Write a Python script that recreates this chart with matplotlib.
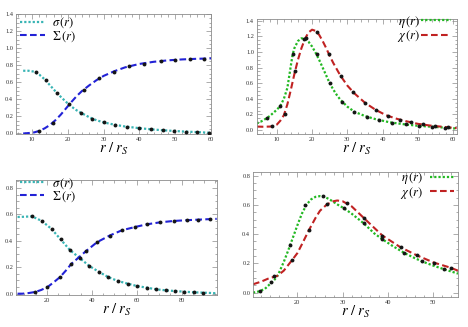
import numpy as np
import matplotlib
matplotlib.use('Agg')
import matplotlib.pyplot as plt
from matplotlib.ticker import MultipleLocator

# ---- data ----
# top left: sigma(r), Sigma(r)
r_tl = [7.5, 9, 10.5, 12, 13.5, 15, 16.5, 18, 19.5, 21, 22.5, 24, 26, 28, 30,
        33, 36, 40, 44, 48, 52, 56, 60]
sig_tl = [0.735, 0.735, 0.725, 0.69, 0.635, 0.565, 0.495, 0.43, 0.37, 0.315,
          0.27, 0.235, 0.19, 0.155, 0.13, 0.103, 0.082, 0.062, 0.046, 0.034,
          0.024, 0.016, 0.008]
Sig_tl = [0.0, 0.005, 0.012, 0.03, 0.06, 0.10, 0.155, 0.22, 0.295, 0.37, 0.44,
          0.50, 0.565, 0.625, 0.675, 0.73, 0.775, 0.815, 0.84, 0.857, 0.868,
          0.875, 0.88]
dot_r_sig_tl = [11, 14, 17, 23.7, 26.8, 30.2, 33.3, 36.5, 39.8, 43.3, 46.5,
                49.7, 53, 56.2, 59.5]
dot_v_sig_tl = [0.72, 0.625, 0.475, 0.24, 0.175, 0.13, 0.1, 0.078, 0.062,
                0.047, 0.037, 0.029, 0.022, 0.015, 0.009]
dot_r_Sig_tl = [12, 15.9, 20.3, 24.4, 28.7, 32.8, 37.2, 41.4, 46, 50, 54, 58]
dot_v_Sig_tl = [0.03, 0.125, 0.34, 0.51, 0.645, 0.725, 0.785, 0.82, 0.848,
                0.862, 0.871, 0.877]

# top right: eta(r), chi(r)
r_eta_tr = [4.3, 6, 8, 10, 11, 12, 13, 14, 14.5, 15, 16, 17, 18, 19, 20, 21,
            22, 23, 24, 25, 26, 27, 28, 30, 32, 35, 38, 42, 46, 50, 55, 61]
eta_tr = [0.085, 0.12, 0.18, 0.26, 0.31, 0.40, 0.54, 0.83, 0.97, 1.05, 1.14,
          1.175, 1.165, 1.13, 1.07, 0.99, 0.90, 0.80, 0.70, 0.60, 0.52, 0.45,
          0.39, 0.30, 0.235, 0.18, 0.14, 0.10, 0.075, 0.055, 0.04, 0.02]
r_chi_tr = [4.3, 6, 8, 9, 10, 11, 12, 13, 14, 15, 16, 17, 18, 19, 20, 21, 22,
            23, 24, 25, 26, 28, 30, 32, 35, 38, 41, 44, 47, 50, 54, 57.6, 61]
chi_tr = [0.045, 0.043, 0.045, 0.05, 0.07, 0.12, 0.19, 0.33, 0.52, 0.72, 0.90,
          1.05, 1.17, 1.25, 1.285, 1.27, 1.22, 1.14, 1.05, 0.95, 0.86, 0.70,
          0.57, 0.47, 0.35, 0.26, 0.19, 0.145, 0.11, 0.08, 0.055, 0.04, 0.025]
dot_r_eta_tr = [7.1, 11, 14.5, 17.8, 21.4, 25, 28.4, 32, 35.6, 39, 42.8, 46.5,
                50.2, 53.9, 57.6]
dot_v_eta_tr = [0.15, 0.31, 0.97, 1.17, 0.97, 0.60, 0.36, 0.235, 0.17, 0.13,
                0.094, 0.073, 0.055, 0.042, 0.032]
dot_r_chi_tr = [8.7, 12.2, 15.3, 18.3, 21.3, 24.8, 28.2, 31.7, 35, 38.2, 41.5,
                44.8, 48, 51.6, 55, 58.6]
dot_v_chi_tr = [0.048, 0.2, 0.76, 1.18, 1.26, 0.97, 0.69, 0.49, 0.35, 0.255,
                0.18, 0.135, 0.1, 0.072, 0.05, 0.035]

# bottom left: sigma(r), Sigma(r)
r_sig_bl = [7, 10, 13.4, 17.8, 22.1, 26.2, 30.3, 34.6, 38.9, 43.2, 47.3, 51.6,
            56, 60.1, 64.6, 68.7, 73, 77.1, 81.2, 85.5, 89.6, 95.6]
sig_bl = [0.58, 0.582, 0.585, 0.55, 0.49, 0.41, 0.33, 0.27, 0.21, 0.165,
          0.126, 0.096, 0.076, 0.058, 0.045, 0.033, 0.025, 0.02, 0.015, 0.01,
          0.008, 0.003]
r_Sig_bl = [7, 9.2, 12, 14.9, 17.5, 20.3, 23, 25.9, 28.5, 30.9, 34.6, 37.3,
            42.4, 48, 53.5, 59.4, 64.6, 70.5, 76.4, 82.3, 87.4, 92.6, 95.6]
Sig_bl = [0.0, 0.0, 0.005, 0.013, 0.028, 0.05, 0.085, 0.126, 0.175, 0.225,
          0.28, 0.32, 0.39, 0.44, 0.48, 0.505, 0.525, 0.54, 0.55, 0.556,
          0.56, 0.564, 0.566]
dot_r_sig_bl = [13.4, 17.8, 22.1, 26.2, 30.3, 34.6, 38.9, 43.2, 47.3, 51.6,
                56, 60.1, 64.6, 68.7, 73, 77.1, 81.2, 85.5, 89.6]
dot_v_sig_bl = [0.585, 0.55, 0.49, 0.41, 0.33, 0.27, 0.21, 0.165, 0.126,
                0.096, 0.076, 0.058, 0.045, 0.033, 0.025, 0.02, 0.015, 0.01,
                0.008]
dot_r_Sig_bl = [14.9, 20.3, 25.9, 30.9, 37.3, 42.4, 48, 53.5, 59.4, 64.6,
                70.5, 76.4, 82.3, 87.4, 92.6]
dot_v_Sig_bl = [0.013, 0.05, 0.126, 0.225, 0.32, 0.39, 0.44, 0.48, 0.505,
                0.525, 0.54, 0.55, 0.556, 0.56, 0.564]

# bottom right: eta(r), chi(r)
r_eta_br = [10.2, 11.5, 12.8, 14, 15, 15.6, 16, 17, 18, 19, 20, 21, 22, 23,
            24, 25, 26, 27, 28, 29, 30.3, 32, 34.7, 37, 38.8, 41, 43.6, 46,
            47.6, 50, 52.4, 55.5]
eta_br = [0.0, 0.008, 0.025, 0.06, 0.09, 0.115, 0.14, 0.21, 0.29, 0.375,
          0.46, 0.54, 0.6, 0.637, 0.655, 0.66, 0.655, 0.64, 0.62, 0.6, 0.577,
          0.54, 0.473, 0.405, 0.365, 0.32, 0.272, 0.235, 0.213, 0.185, 0.16,
          0.13]
r_chi_br = [10.2, 12, 13.5, 15.6, 17, 18.9, 20, 21, 22.6, 24, 25, 26.6, 28,
            28.8, 30, 32, 34.7, 38.8, 42.8, 46.4, 50.2, 53.9, 55.5]
chi_br = [0.057, 0.075, 0.095, 0.115, 0.15, 0.225, 0.27, 0.33, 0.43, 0.51,
          0.56, 0.605, 0.625, 0.63, 0.625, 0.59, 0.51, 0.39, 0.31, 0.255,
          0.205, 0.17, 0.15]
dot_r_eta_br = [11.8, 14.2, 18.4, 21.6, 25.7, 30.3, 34.7, 38.8, 43.6, 47.6,
                52.4]
dot_v_eta_br = [0.012, 0.07, 0.327, 0.6, 0.658, 0.577, 0.473, 0.365, 0.272,
                0.213, 0.16]
dot_r_chi_br = [14.9, 18.9, 22.6, 26.6, 31, 34.7, 38.8, 42.8, 46.4, 50.2,
                53.9]
dot_v_chi_br = [0.113, 0.225, 0.43, 0.605, 0.61, 0.51, 0.39, 0.31, 0.255,
                0.205, 0.17]

# ---- style ----
plt.rcParams['mathtext.fontset'] = 'stix'
plt.rcParams['font.family'] = ['Liberation Serif', 'DejaVu Serif']

W, H = 468, 327
c_sig = '#38b4b4'
c_Sig = '#2222d6'
c_eta = '#22b822'
c_chi = '#c02222'
frame = '#8c8c8c'
dotted = (0, (1.0, 0.9))
dashed = (0, (3.2, 1.6))

fig = plt.figure(figsize=(W / 100, H / 100), dpi=100)


def make_ax(l, r, t, b):
    ax = fig.add_axes([l / W, 1 - b / H, (r - l) / W, (b - t) / H])
    for s in ax.spines.values():
        s.set_color(frame)
        s.set_linewidth(0.6)
    ax.tick_params(which='both', direction='in', top=True, right=True,
                   colors=frame, labelcolor='#333333', labelsize=4.6,
                   width=0.5, pad=2)
    ax.tick_params(which='major', length=3.5)
    ax.tick_params(which='minor', length=1.8)
    ax.set_xlabel(r'$r\ /\ r_{S}$', fontsize=10.5, labelpad=-0.5)
    return ax


def dots(ax, r, v):
    ax.plot(r, v, 'o', color='#151515', ms=2.8, mew=0, zorder=5)


def legend(ax, handles, labels, anchor, right, hl, pad):
    ax.legend(handles, labels, loc='upper right' if right else 'upper left',
              bbox_to_anchor=anchor, frameon=False, fontsize=9,
              handlelength=hl, handletextpad=pad, labelspacing=-0.12,
              borderaxespad=0, borderpad=0, markerfirst=not right)


# top left
ax = make_ax(16, 211, 14, 134)
l1, = ax.plot(r_tl, sig_tl, color=c_sig, lw=1.6, ls=dotted)
l2, = ax.plot(r_tl, Sig_tl, color=c_Sig, lw=1.5, ls=dashed)
dots(ax, dot_r_sig_tl, dot_v_sig_tl)
dots(ax, dot_r_Sig_tl, dot_v_Sig_tl)
ax.set_xlim(5.5, 60)
ax.set_ylim(-0.006, 1.4)
ax.xaxis.set_major_locator(MultipleLocator(10))
ax.xaxis.set_minor_locator(MultipleLocator(2))
ax.yaxis.set_minor_locator(MultipleLocator(0.05))
ax.set_yticks(np.arange(0, 1.41, 0.2))
ax.set_yticklabels([f'{v:.1f}' for v in np.arange(0, 1.41, 0.2)])
legend(ax, [l1, l2], [r'$\sigma\,(r)$', r'$\Sigma\,(r)$'], (0.02, 0.985),
       False, 2.0, 0.55)

# top right
ax = make_ax(256.7, 457, 19.3, 134)
l1, = ax.plot(r_eta_tr, eta_tr, color=c_eta, lw=1.6, ls=dotted)
l2, = ax.plot(r_chi_tr, chi_tr, color=c_chi, lw=1.5, ls=dashed)
dots(ax, dot_r_eta_tr, dot_v_eta_tr)
dots(ax, dot_r_chi_tr, dot_v_chi_tr)
ax.set_xlim(4.3, 61.1)
ax.set_ylim(-0.05, 1.418)
ax.xaxis.set_major_locator(MultipleLocator(10))
ax.xaxis.set_minor_locator(MultipleLocator(2))
ax.yaxis.set_minor_locator(MultipleLocator(0.05))
ax.set_yticks(np.arange(0, 1.41, 0.2))
ax.set_yticklabels([f'{v:.1f}' for v in np.arange(0, 1.41, 0.2)])
legend(ax, [l1, l2], [r'$\eta\,(r)$', r'$\chi\,(r)$'], (0.97, 1.05),
       True, 2.4, 0.1)

# bottom left
ax = make_ax(16, 216.7, 180, 295)
l1, = ax.plot(r_sig_bl, sig_bl, color=c_sig, lw=1.6, ls=dotted)
l2, = ax.plot(r_Sig_bl, Sig_bl, color=c_Sig, lw=1.5, ls=dashed)
dots(ax, dot_r_sig_bl, dot_v_sig_bl)
dots(ax, dot_r_Sig_bl, dot_v_Sig_bl)
ax.set_xlim(6.3, 95.6)
ax.set_ylim(-0.01, 0.86)
ax.xaxis.set_major_locator(MultipleLocator(20))
ax.xaxis.set_minor_locator(MultipleLocator(5))
ax.yaxis.set_minor_locator(MultipleLocator(0.05))
ax.set_yticks(np.arange(0, 0.81, 0.2))
ax.set_yticklabels([f'{v:.1f}' for v in np.arange(0, 0.81, 0.2)])
legend(ax, [l1, l2], [r'$\sigma\,(r)$', r'$\Sigma\,(r)$'], (0.02, 1.035),
       False, 1.9, 0.65)

# bottom right
ax = make_ax(253, 458, 172, 297)
l1, = ax.plot(r_eta_br, eta_br, color=c_eta, lw=1.6, ls=dotted)
l2, = ax.plot(r_chi_br, chi_br, color=c_chi, lw=1.5, ls=dashed)
dots(ax, dot_r_eta_br, dot_v_eta_br)
dots(ax, dot_r_chi_br, dot_v_chi_br)
ax.set_xlim(10.2, 55.5)
ax.set_ylim(-0.03, 0.825)
ax.xaxis.set_major_locator(MultipleLocator(10))
ax.xaxis.set_minor_locator(MultipleLocator(2))
ax.yaxis.set_minor_locator(MultipleLocator(0.05))
ax.set_yticks(np.arange(0, 0.81, 0.2))
ax.set_yticklabels([f'{v:.1f}' for v in np.arange(0, 0.81, 0.2)])
legend(ax, [l1, l2], [r'$\eta\,(r)$', r'$\chi\,(r)$'], (0.98, 1.015),
       True, 1.9, 0.55)

fig.savefig('out.png', dpi=100)
plt.close(fig)
